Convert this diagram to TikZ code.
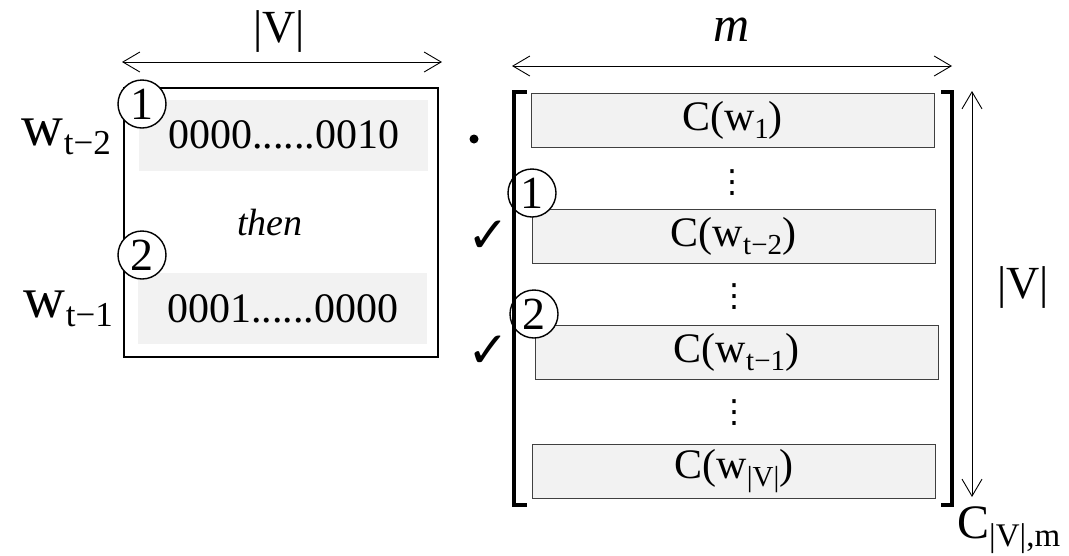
\documentclass[tikz,border=0pt]{standalone}
\usepackage{fontspec}
\setmainfont{Liberation Serif}
\newfontfamily\checkfont{DejaVu Sans}
\usetikzlibrary{arrows.meta, positioning, calc}
\definecolor{rowgray}{HTML}{F2F2F2}
\definecolor{edgegray}{HTML}{404040}
% lowered index text: size, drop, text
\newcommand\lowr[3]{\raisebox{-#2pt}{\fontsize{#1}{#1}\selectfont #3}}
\tikzset{
    dimarrow/.style={
            {Straight Barb[length=17pt,width=20pt]}-{Straight Barb[length=17pt,width=20pt]},
            line width=0.9pt, % thin double headed measure line
        },
    bitrow/.style={
            fill=rowgray,
            inner sep=0pt,
            minimum width=289pt,
            minimum height=71pt,
            font=\fontsize{42}{48}\selectfont,
        },
    embrow/.style={
            draw=edgegray,
            line width=1pt,
            fill=rowgray,
            inner sep=0pt,
            minimum width=403pt,
            minimum height=54pt,
            font=\fontsize{42}{48}\selectfont,
        },
    stepnum/.style={
            circle,
            draw,
            line width=1.4pt,
            fill=white,
            inner sep=0pt,
            minimum size=48pt,
            font=\fontsize{46}{46}\selectfont,
        },
    vdotsnode/.style={inner sep=0pt, text height=24pt, text depth=0pt, font=\checkfont\fontsize{32}{32}\selectfont},
    ticknode/.style={inner sep=0pt, font=\checkfont\bfseries\fontsize{50}{52}\selectfont},
    bigtext/.style={inner sep=0pt, font=\fontsize{46}{52}\selectfont},
    bracket/.style={line width=4.5pt, line join=miter}
}
\begin{document}
\begin{tikzpicture}[x=1pt, y=-1pt]
                \useasboundingbox (0,0) rectangle (1069,555);

                % one-hot input
                \node[draw, line width=1.5pt, minimum width=314pt, minimum height=269pt, inner sep=0pt] (onehot) at (281,222.5) {};
                \node[bitrow] (row1) at (283.5,135) {0000......0010};
                \node[bitrow] (row2) at (282.5,308.5) {0001......0000};
                \node[inner sep=0pt, font=\fontsize{38}{44}\selectfont\itshape] (then) at (270,222) {then};
                \node[stepnum] (n1) at (142,104) {1};
                \node[stepnum] (n2) at (142,255) {2};
                \node[bigtext, anchor=base east, font=\fontsize{58}{60}\selectfont] (wa) at (111,145) {w\lowr{35}{9}{t−2}};
                \node[bigtext, anchor=base east, font=\fontsize{58}{60}\selectfont] (wb) at (113,317) {w\lowr{35}{9}{t−1}};

                \coordinate (vl) at (122,62);
                \coordinate (vr) at (442,62);
                \node[bigtext, font=\fontsize{46}{50}\selectfont] (vtop) at (279,32) {|V|};

                % product dot and checks
                \node[circle, fill=black, inner sep=0pt, minimum size=9pt] (prod) at (474,139) {};
                \node[ticknode] (tick1) at (488,237) {✓};
                \node[ticknode] (tick2) at (488,352) {✓};

                % embedding matrix
                \node[minimum width=438pt, minimum height=413pt, inner sep=0pt] (cmat) at (733,298.5) {};
                \node[embrow] (emb1) at (732.5,120) {C(w\lowr{29}{8}{1})};
                \node[vdotsnode] (dots1) at (732,180) {⋮};
                \node[embrow] (embt2) at (733.5,236) {C(w\lowr{29}{8}{t−2})};
                \node[vdotsnode] (dots2) at (734,294) {⋮};
                \node[embrow] (embt1) at (736.5,352) {C(w\lowr{29}{8}{t−1})};
                \node[vdotsnode] (dots3) at (734,410) {⋮};
                \node[embrow] (embv) at (734,471) {C(w\lowr{29}{8}{|V|})};
                \node[stepnum] (m1) at (532,193) {1};
                \node[stepnum] (m2) at (534,314) {2};

                \draw[bracket] ($(cmat.north west)+(13,0)$) -| (cmat.south west) -- ++(13,0);
                \draw[bracket] ($(cmat.north east)+(-11,0)$) -| (cmat.south east) -- ++(-11,0);

                \coordinate (ml) at (512,66);
                \coordinate (mr) at (952,66);
                \node[bigtext, font=\fontsize{50}{56}\selectfont\itshape] (mlab) at (732,30) {m};
                \coordinate (vu) at (972,91);
                \coordinate (vd) at (972,497);
                \node[bigtext, font=\fontsize{46}{50}\selectfont] (vside) at (1023,287) {|V|};
                \node[bigtext, anchor=base west, font=\fontsize{48}{54}\selectfont] (cname) at (957,538) {C\lowr{33}{8}{|V|,m}};

                % measure arrows
                \draw[dimarrow] (vl) -- (vr);
                \draw[dimarrow] (ml) -- (mr);
                \draw[dimarrow] (vu) -- (vd);

        \end{tikzpicture}
\end{document}
